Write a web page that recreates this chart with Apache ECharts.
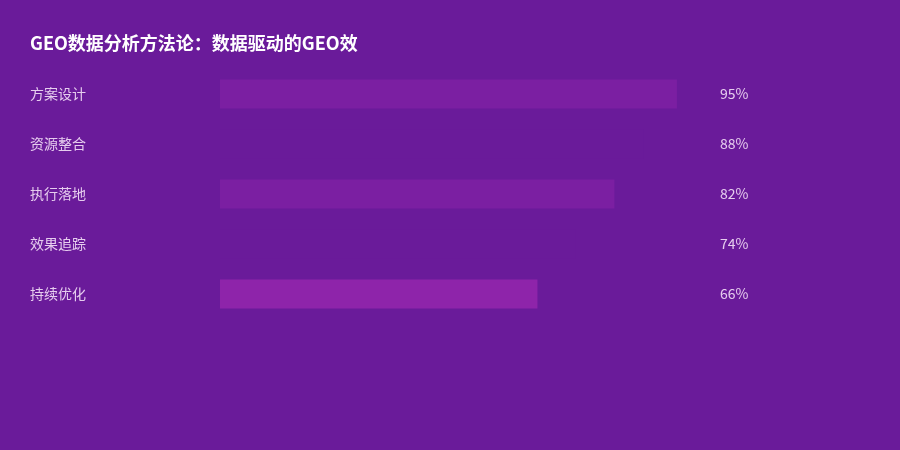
<!DOCTYPE html>
<html>
<head>
<meta charset="utf-8">
<script src="https://cdn.jsdelivr.net/npm/echarts@6/dist/echarts.min.js"></script>
<style>
html, body { margin: 0; padding: 0; background: #6a1b9a; }
#main { width: 900px; height: 450px; }
</style>
</head>
<body>
<div id="main"></div>
<script>
var titleText = 'GEO数据分析方法论：数据驱动的GEO效';
var stages = ['方案设计', '资源整合', '执行落地', '效果追踪', '持续优化'];
var rates = [95, 88, 82, 74, 66];
var barColors = ['#7b1fa2', '#6a1b9a', '#7b1fa2', '#6a1b9a', '#8e24aa'];

var myChart = echarts.init(document.getElementById('main'));

myChart.setOption({
    backgroundColor: '#6a1b9a',
    animation: false,
    title: {
        text: titleText,
        left: 25,
        top: 29,
        textStyle: {
            color: '#ffffff',
            fontSize: 18,
            fontWeight: 'bold',
            fontFamily: 'Noto Sans CJK SC'
        }
    },
    grid: {
        left: 220,
        top: 69,
        width: 481,
        height: 250
    },
    xAxis: {
        type: 'value',
        min: 0,
        max: 100,
        show: false
    },
    yAxis: [{
        type: 'category',
        data: stages,
        inverse: true,
        axisLine: { show: false },
        axisTick: { show: false },
        axisLabel: {
            align: 'left',
            margin: 190,
            color: '#e6cdee',
            fontSize: 14,
            fontFamily: 'Noto Sans CJK SC'
        }
    }, {
        type: 'category',
        data: rates.map(function (v) { return v + '%'; }),
        inverse: true,
        position: 'right',
        axisLine: { show: false },
        axisTick: { show: false },
        axisLabel: {
            align: 'left',
            margin: 19,
            color: '#e6cdee',
            fontSize: 14,
            fontFamily: 'Noto Sans CJK SC'
        }
    }],
    series: [{
        type: 'bar',
        barWidth: 29,
        data: rates.map(function (v, i) {
            return { value: v, itemStyle: { color: barColors[i] } };
        })
    }]
});
</script>
</body>
</html>
